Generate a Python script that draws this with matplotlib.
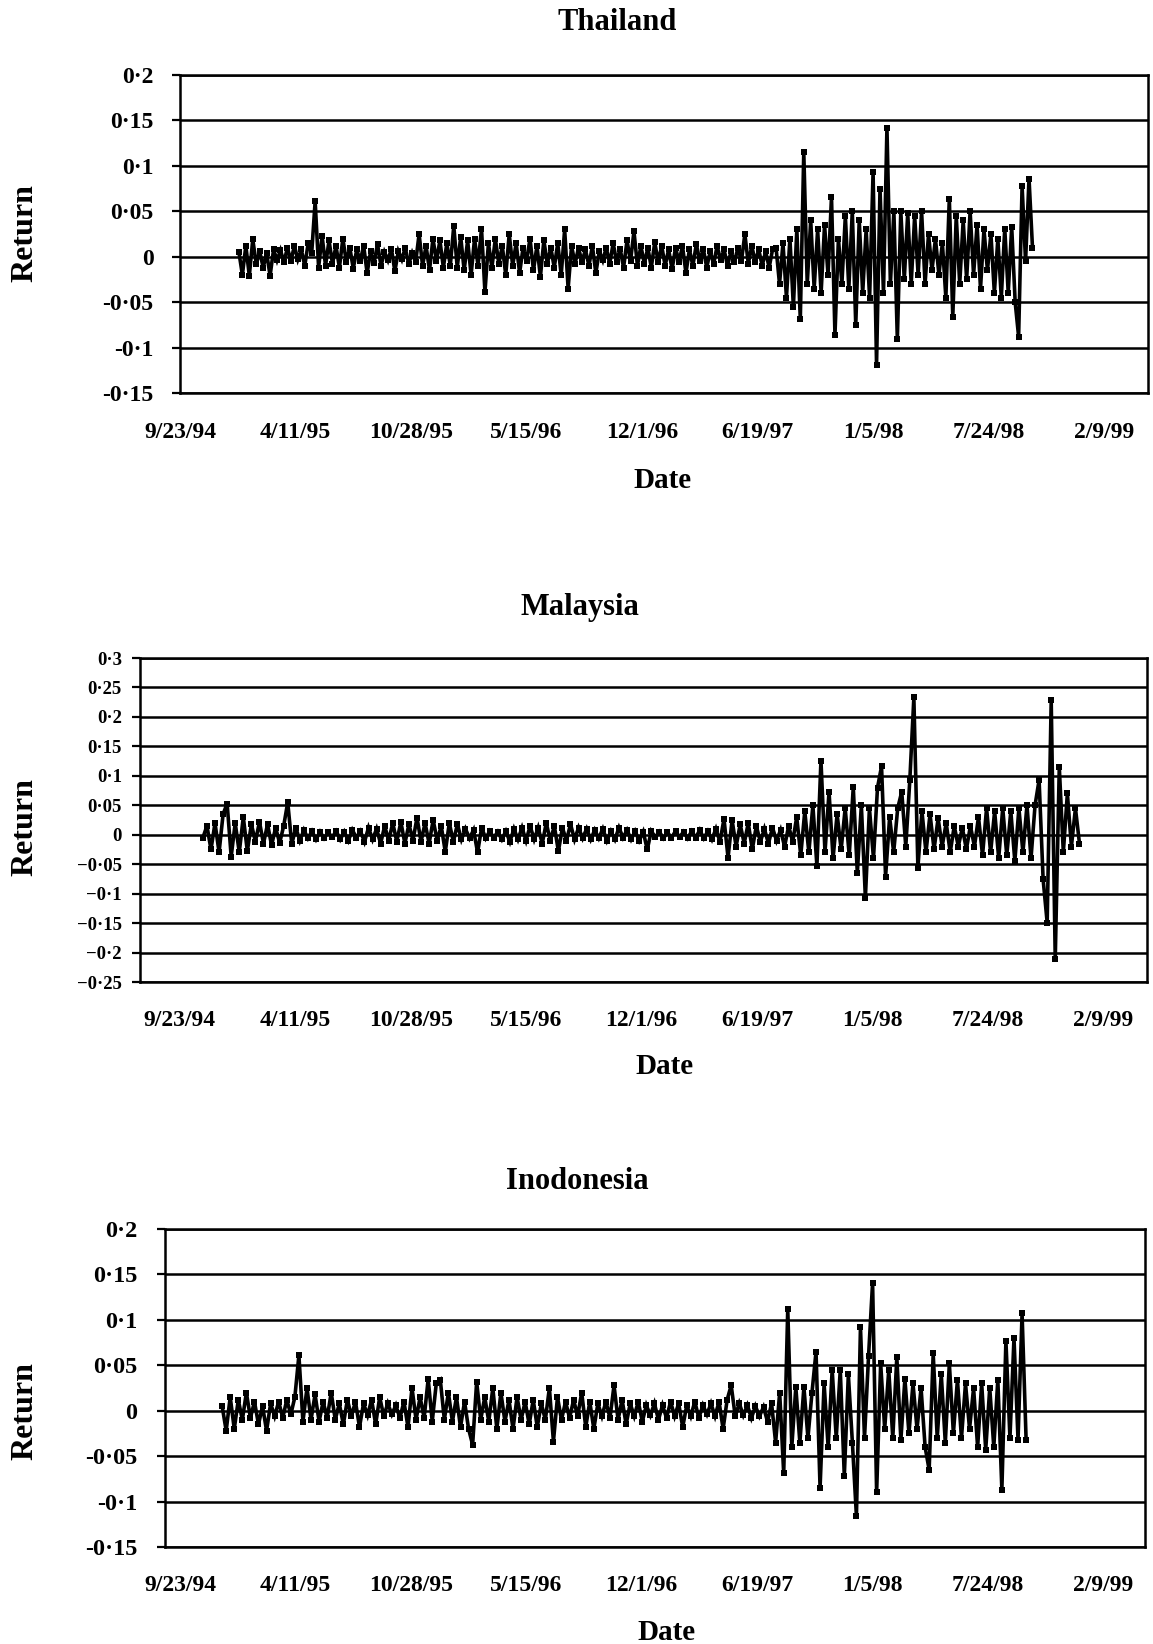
import matplotlib
matplotlib.use("Agg")
import matplotlib.pyplot as plt
import pandas as pd

plt.rcParams['font.family'] = ['Liberation Serif', 'DejaVu Serif']
plt.rcParams['font.weight'] = 'bold'

# ---------------- data ----------------
date_tick_labels = ["9/23/94", "4/11/95", "10/28/95", "5/15/96", "12/1/96",
                    "6/19/97", "1/5/98", "7/24/98", "2/9/99"]

thai_start = "1995-01-03"
thai_step = "6D"
thai_returns = [
    0.005, -0.02, 0.012, -0.021, 0.019, -0.008, 0.006, -0.012, 0.004, -0.021,
    0.008, -0.004, 0.007, -0.006, 0.01, -0.005, 0.012, -0.003, 0.008, -0.01,
    0.015, 0.004, 0.061, -0.012, 0.023, -0.01, 0.018, -0.008, 0.012, -0.012,
    0.02, -0.006, 0.01, -0.013, 0.008, -0.005, 0.012, -0.018, 0.006, -0.007,
    0.014, -0.01, 0.005, -0.004, 0.009, -0.016, 0.006, -0.003, 0.01, -0.008,
    0.004, -0.006, 0.025, -0.01, 0.012, -0.015, 0.02, -0.005, 0.018, -0.012,
    0.015, -0.01, 0.034, -0.012, 0.022, -0.015, 0.018, -0.02, 0.02, -0.01,
    0.031, -0.039, 0.015, -0.012, 0.02, -0.008, 0.012, -0.02, 0.025, -0.01,
    0.015, -0.018, 0.01, -0.005, 0.02, -0.015, 0.012, -0.022, 0.018, -0.008,
    0.01, -0.012, 0.015, -0.02, 0.03, -0.035, 0.012, -0.008, 0.01, -0.006,
    0.008, -0.01, 0.012, -0.018, 0.006, -0.004, 0.01, -0.008, 0.015, -0.006,
    0.009, -0.012, 0.018, -0.005, 0.028, -0.01, 0.012, -0.008, 0.01, -0.012,
    0.016, -0.006, 0.012, -0.01, 0.008, -0.014, 0.01, -0.006, 0.012, -0.018,
    0.008, -0.01, 0.014, -0.005, 0.009, -0.012, 0.006, -0.008, 0.012, -0.004,
    0.008, -0.01, 0.006, -0.006, 0.01, -0.005, 0.025, -0.008, 0.012, -0.006,
    0.008, -0.01, 0.006, -0.012, 0.008,
    0.01, -0.03, 0.015, -0.045, 0.02, -0.055, 0.03, -0.069, 0.115, -0.03,
    0.04, -0.035, 0.03, -0.04, 0.035, -0.02, 0.066, -0.086, 0.02, -0.03,
    0.045, -0.035, 0.05, -0.075, 0.04, -0.04, 0.03, -0.045, 0.093, -0.119,
    0.075, -0.04, 0.142, -0.03, 0.05, -0.091, 0.05, -0.025, 0.048, -0.03,
    0.045, -0.02, 0.05, -0.03, 0.025, -0.015, 0.02, -0.02, 0.015, -0.045,
    0.064, -0.066, 0.045, -0.03, 0.04, -0.025, 0.05, -0.02, 0.035, -0.035,
    0.03, -0.015, 0.025, -0.04, 0.02, -0.045, 0.031, -0.04, 0.033, -0.05,
    -0.088, 0.078, -0.005, 0.086, 0.01,
]

malay_start = "1994-11-02"
malay_step = "7D"
malay_returns = [
    -0.005, 0.015, -0.025, 0.02, -0.03, 0.035, 0.053, -0.037, 0.02, -0.03,
    0.03, -0.028, 0.018, -0.012, 0.022, -0.015, 0.018, -0.018, 0.012, -0.014,
    0.015, 0.055, -0.016, 0.012, -0.01, 0.008, -0.006, 0.006, -0.008, 0.005,
    -0.006, 0.004, -0.004, 0.006, -0.008, 0.005, -0.01, 0.008, -0.005, 0.006,
    -0.012, 0.012, -0.008, 0.01, -0.015, 0.015, -0.01, 0.02, -0.012, 0.022,
    -0.015, 0.018, -0.01, 0.029, -0.012, 0.02, -0.015, 0.025, -0.01, 0.015,
    -0.029, 0.02, -0.012, 0.018, -0.008, 0.01, -0.006, 0.008, -0.03, 0.012,
    -0.006, 0.006, -0.005, 0.005, -0.008, 0.006, -0.012, 0.01, -0.008, 0.012,
    -0.01, 0.015, -0.008, 0.012, -0.015, 0.02, -0.01, 0.015, -0.028, 0.012,
    -0.01, 0.018, -0.008, 0.012, -0.006, 0.01, -0.008, 0.008, -0.006, 0.01,
    -0.01, 0.006, -0.008, 0.012, -0.005, 0.008, -0.008, 0.006, -0.01, 0.005,
    -0.025, 0.006, -0.004, 0.005, -0.006, 0.004, -0.005, 0.006, -0.004, 0.005,
    -0.006, 0.006, -0.005, 0.008, -0.006, 0.006, -0.008, 0.01, -0.012, 0.027,
    -0.039, 0.025, -0.02, 0.018, -0.015, 0.02, -0.025, 0.015, -0.012, 0.01,
    -0.015, 0.012, -0.01, 0.008, -0.02, 0.015, -0.012, 0.03, -0.035, 0.04,
    -0.03, 0.05, -0.053, 0.126, -0.03, 0.073, -0.04, 0.035, -0.025, 0.045,
    -0.035, 0.081, -0.065, 0.05, -0.107, 0.045, -0.04, 0.08, 0.116, -0.071,
    0.03, -0.03, 0.045, 0.073, -0.02, 0.093, 0.233, -0.056, 0.04, -0.03,
    0.035, -0.025, 0.028, -0.02, 0.02, -0.03, 0.015, -0.02, 0.012, -0.025,
    0.015, -0.02, 0.03, -0.035, 0.045, -0.03, 0.04, -0.04, 0.045, -0.035,
    0.04, -0.045, 0.045, -0.03, 0.05, -0.04, 0.05, 0.093, -0.076, -0.149,
    0.228, -0.211, 0.115, -0.03, 0.07, -0.02, 0.045, -0.015,
]

indo_start = "1994-12-05"
indo_step = "7D"
indo_returns = [
    0.005, -0.022, 0.015, -0.02, 0.012, -0.01, 0.02, -0.008, 0.01, -0.015,
    0.005, -0.022, 0.008, -0.006, 0.01, -0.008, 0.012, -0.004, 0.015, 0.061,
    -0.012, 0.025, -0.01, 0.018, -0.012, 0.01, -0.008, 0.02, -0.01, 0.008,
    -0.015, 0.012, -0.006, 0.01, -0.018, 0.008, -0.005, 0.012, -0.015, 0.015,
    -0.006, 0.008, -0.004, 0.006, -0.008, 0.01, -0.018, 0.025, -0.01, 0.015,
    -0.008, 0.035, -0.012, 0.03, 0.034, -0.01, 0.02, -0.012, 0.015, -0.018,
    0.01, -0.02, -0.0375, 0.032, -0.01, 0.015, -0.012, 0.025, -0.02, 0.02,
    -0.012, 0.012, -0.02, 0.015, -0.01, 0.01, -0.015, 0.012, -0.018, 0.008,
    -0.01, 0.025, -0.034, 0.015, -0.01, 0.01, -0.008, 0.012, -0.006, 0.02,
    -0.018, 0.01, -0.02, 0.008, -0.006, 0.01, -0.008, 0.028, -0.01, 0.012,
    -0.015, 0.008, -0.006, 0.01, -0.012, 0.006, -0.005, 0.008, -0.01, 0.006,
    -0.008, 0.01, -0.006, 0.008, -0.018, 0.006, -0.006, 0.01, -0.008, 0.006,
    -0.004, 0.008, -0.006, 0.01, -0.02, 0.012, 0.028, -0.006, 0.008, -0.005,
    0.006, -0.008, 0.005, -0.006, 0.004, -0.012, 0.008, -0.035, 0.02, -0.069,
    0.112, -0.04, 0.026, -0.035, 0.026, -0.03, 0.02, 0.065, -0.085, 0.03,
    -0.04, 0.045, -0.03, 0.045, -0.072, 0.04, -0.035, -0.116, 0.092, -0.03,
    0.06, 0.141, -0.09, 0.052, -0.02, 0.045, -0.03, 0.059, -0.032, 0.035,
    -0.025, 0.03, -0.02, 0.025, -0.04, -0.065, 0.063, -0.03, 0.04, -0.035,
    0.052, -0.025, 0.034, -0.03, 0.03, -0.02, 0.025, -0.04, 0.03, -0.043,
    0.025, -0.04, 0.034, -0.087, 0.077, -0.03, 0.08, -0.032, 0.107, -0.032,
]

thai_yticks = [-0.15, -0.1, -0.05, 0, 0.05, 0.1, 0.15, 0.2]
thai_ylabels = ["-0·15", "-0·1", "-0·05", "0", "0·05", "0·1", "0·15", "0·2"]
malay_yticks = [-0.25, -0.2, -0.15, -0.1, -0.05, 0, 0.05, 0.1, 0.15, 0.2, 0.25, 0.3]
malay_ylabels = ["\u22120·25", "\u22120·2", "\u22120·15", "\u22120·1", "\u22120·05", "0",
                 "0·05", "0·1", "0·15", "0·2", "0·25", "0·3"]
indo_yticks = [-0.15, -0.1, -0.05, 0, 0.05, 0.1, 0.15, 0.2]
indo_ylabels = ["-0·15", "-0·1", "-0·05", "0", "0·05", "0·1", "0·15", "0·2"]

# ---------------- layout ----------------
W, H = 1153, 1644
fig = plt.figure(figsize=(W / 100, H / 100), dpi=100)

def fx(x):
    return x / W

def fy(y):
    return 1 - y / H

tick_dates = pd.to_datetime(date_tick_labels, format="%m/%d/%y")
origin = tick_dates[0]

panels = [
    dict(title="Thailand", start=thai_start, step=thai_step, vals=thai_returns,
         box=(180, 75, 1148, 393), xlim=(0, 1676), ylim=(-0.15, 0.2),
         yticks=thai_yticks, ylabels=thai_ylabels, yfs=17, ypad=13, xpad=21,
         tpos=(617, 22), dpos=(662, 480), rpos=(25, 233)),
    dict(title="Malaysia", start=malay_start, step=malay_step, vals=malay_returns,
         box=(140, 658, 1147, 982), xlim=(-69, 1676), ylim=(-0.25, 0.3),
         yticks=malay_yticks, ylabels=malay_ylabels, yfs=13.5, ypad=7, xpad=20,
         tpos=(580, 608), dpos=(664, 1067), rpos=(25, 827)),
    dict(title="Inodonesia", start=indo_start, step=indo_step, vals=indo_returns,
         box=(165, 1229, 1145, 1547), xlim=(-26, 1672), ylim=(-0.15, 0.2),
         yticks=indo_yticks, ylabels=indo_ylabels, yfs=17.5, ypad=14, xpad=20,
         tpos=(577, 1181), dpos=(666, 1632), rpos=(25, 1411)),
]

for p in panels:
    l, t, r, b = p["box"]
    ax = fig.add_axes([fx(l), fy(b), (r - l) / W, (b - t) / H])
    dates = pd.date_range(p["start"], periods=len(p["vals"]), freq=p["step"])
    ax.plot(dates, p["vals"], color="black", lw=2.6, marker="s", ms=4.6,
            mew=0, solid_joinstyle="miter", zorder=3)
    ax.set_xlim(origin + pd.Timedelta(days=p["xlim"][0]),
                origin + pd.Timedelta(days=p["xlim"][1]))
    ax.set_ylim(*p["ylim"])
    ax.set_xticks(tick_dates)
    ax.set_xticklabels(date_tick_labels, fontsize=17, fontweight="bold")
    ax.set_yticks(p["yticks"])
    ax.set_yticklabels(p["ylabels"], fontsize=p["yfs"], fontweight="bold")
    ax.tick_params(axis="x", length=0, pad=p["xpad"])
    ax.tick_params(axis="y", length=6, width=1.6, direction="out",
                   pad=p["ypad"], color="black")
    ax.set_axisbelow(True)
    ax.grid(axis="y", color="black", lw=1.8)
    ax.grid(axis="x", visible=False)
    for s in ax.spines.values():
        s.set_linewidth(1.8)
        s.set_color("black")
    ax.set_xlabel("Date", fontsize=21, fontweight="bold", va="center")
    ax.xaxis.set_label_coords(fx(p["dpos"][0]), fy(p["dpos"][1]),
                              transform=fig.transFigure)
    ax.set_ylabel("Return", fontsize=23, fontweight="bold", va="center", ha="center")
    ax.yaxis.set_label_coords(fx(p["rpos"][0]), fy(p["rpos"][1]),
                              transform=fig.transFigure)
    fig.text(fx(p["tpos"][0]), fy(p["tpos"][1]), p["title"], fontsize=22,
             fontweight="bold", ha="center", va="center")

fig.savefig("out.png", dpi=100, facecolor="white")
